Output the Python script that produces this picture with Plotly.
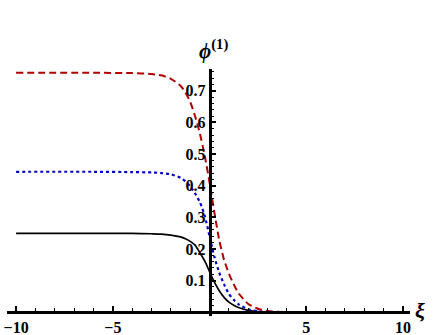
import plotly.graph_objects as go

xs = [-10, -6, -4, -3, -2.5, -2, -1.5, -1.25, -1, -0.75, -0.5, -0.25, 0,
      0.25, 0.5, 0.75, 1, 1.25, 1.5, 2, 2.5, 3, 3.5, 4, 6, 10]
phi_red = [0.757, 0.757, 0.756, 0.753, 0.749, 0.738, 0.716, 0.695, 0.665, 0.62,
           0.565, 0.495, 0.41, 0.315, 0.228, 0.165, 0.122, 0.088, 0.06, 0.026,
           0.011, 0.004, 0.0015, 0.0005, 0.0, 0.0]
phi_blue = [0.444, 0.444, 0.443, 0.442, 0.440, 0.436, 0.425, 0.414, 0.398, 0.376,
            0.348, 0.305, 0.24, 0.175, 0.125, 0.088, 0.058, 0.039, 0.025, 0.009,
            0.003, 0.001, 0.0004, 0.0001, 0.0, 0.0]
phi_black = [0.249, 0.249, 0.249, 0.248, 0.247, 0.244, 0.238, 0.232, 0.224, 0.212,
             0.188, 0.162, 0.128, 0.095, 0.068, 0.047, 0.032, 0.022, 0.015, 0.006,
             0.002, 0.0008, 0.0003, 0.0001, 0.0, 0.0]

x_tickvals = [-10, -5, 5, 10]
x_ticktext = ["−10", "−5", "5", "10"]
y_tickvals = [0.1, 0.2, 0.3, 0.4, 0.5, 0.6, 0.7]
y_ticktext = ["0.1", "0.2", "0.3", "0.4", "0.5", "0.6", "0.7"]

xr = [-10.47, 10.36]
yr = [-0.012, 0.769]

fig = go.Figure()
fig.add_trace(go.Scatter(x=xs, y=phi_black, mode="lines", line=dict(color="black", width=1.7, shape="spline", smoothing=0.6)))
fig.add_trace(go.Scatter(x=xs, y=phi_blue, mode="lines", line=dict(color="#0000c8", width=2.2, dash="dot", shape="spline", smoothing=0.6)))
fig.add_trace(go.Scatter(x=xs, y=phi_red, mode="lines", line=dict(color="#b00000", width=2, dash="7px,4px", shape="spline", smoothing=0.6)))

tickfont = dict(family="Liberation Serif", size=16, color="black", weight="bold")
xpos = (0 - xr[0]) / (xr[1] - xr[0])
ypos = (0 - yr[0]) / (yr[1] - yr[0])

fig.update_layout(
    width=436, height=335,
    margin=dict(l=7, r=26, t=69, b=19),
    plot_bgcolor="white", paper_bgcolor="white",
    showlegend=False,
    xaxis=dict(range=xr, showgrid=False, zeroline=False, showline=True, linecolor="black", linewidth=2.5,
               anchor="free", position=ypos, automargin=False,
               tickmode="array", tickvals=x_tickvals, ticktext=x_ticktext,
               ticks="inside", ticklen=5, tickwidth=1.5, tickcolor="black", tickfont=tickfont,
               minor=dict(tickmode="linear", tick0=0, dtick=1, ticks="inside", ticklen=3, tickwidth=1.2, tickcolor="black")),
    yaxis=dict(range=yr, showgrid=False, zeroline=False, showline=True, linecolor="black", linewidth=2.5,
               anchor="free", position=xpos, automargin=False,
               tickmode="array", tickvals=y_tickvals, ticktext=y_ticktext,
               ticks="inside", ticklen=5, tickwidth=1.5, tickcolor="black", tickfont=tickfont,
               minor=dict(tickmode="linear", tick0=0, dtick=0.02, ticks="inside", ticklen=3, tickwidth=1.2, tickcolor="black")),
    annotations=[
        dict(text="<b><i>ϕ</i><sup>(1)</sup></b>", x=xpos, y=1.0, xref="paper", yref="paper",
             xanchor="center", yanchor="bottom", yshift=4, xshift=4, showarrow=False,
             font=dict(family="Liberation Serif", size=21, color="black")),
        dict(text="<b><i>ξ</i></b>", x=1.0, y=ypos, xref="paper", yref="paper", xshift=3, yshift=2,
             xanchor="left", yanchor="middle", showarrow=False,
             font=dict(family="Liberation Serif", size=22, color="black")),
    ],
)

fig.write_html("out.html", config={"displayModeBar": False},
               post_script="document.body.style.margin='0';document.body.style.padding='0';")
